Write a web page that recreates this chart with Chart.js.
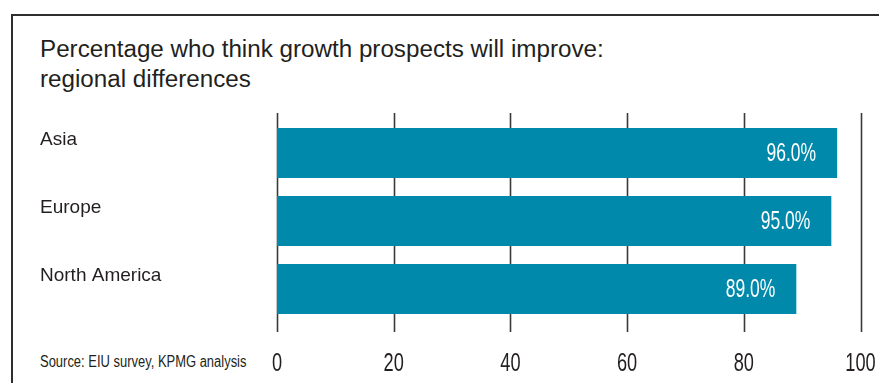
<!DOCTYPE html>
<html>
<head>
<meta charset="utf-8">
<script src="https://cdn.jsdelivr.net/npm/chart.js@4"></script>
<style>
  html, body { margin: 0; padding: 0; background: #fff; }
  #wrap { position: relative; width: 879px; height: 383px; overflow: hidden; }
  #frame {
    position: absolute; left: 11px; top: 14px; width: 900px; height: 400px;
    border-left: 2px solid #2e2e2e; border-top: 2px solid #2e2e2e;
  }
  #title {
    position: absolute; left: 40px; top: 34px; white-space: nowrap;
    font: 23.5px "Liberation Sans", Arial, sans-serif; line-height: 30px; color: #231f20;
    transform: scaleX(1.03); transform-origin: left top;
  }
  #source {
    position: absolute; left: 40px; top: 353px; white-space: nowrap;
    font: 16px "Liberation Sans", Arial, sans-serif; color: #231f20;
    transform: scaleX(0.81); transform-origin: left top;
  }
  #chartBox { position: absolute; left: 0; top: 0; width: 879px; height: 383px; }
</style>
</head>
<body>
<div id="wrap">
  <div id="frame"></div>
  <div id="title">Percentage who think growth prospects will improve:<br>regional differences</div>
  <div id="source">Source: EIU survey, KPMG analysis</div>
  <div id="chartBox"><canvas id="growthChart"></canvas></div>
</div>
<script>
const regions = ["Asia", "Europe", "North America"];
const improvePct = [96.0, 95.0, 89.0];
const axisTicks = [0, 20, 40, 60, 80, 100];

const barColor = "#0189ab";
const inkColor = "#231f20";
const numFont = "'Liberation Sans', Arial, sans-serif";
const squeeze = 0.7; // numbers are set in a condensed cut

// vertical rules behind the bars, running a little past the plot area
const gridRules = {
  id: "gridRules",
  beforeDatasetsDraw(chart) {
    const { ctx, chartArea, scales } = chart;
    ctx.save();
    ctx.strokeStyle = "#3a3a3a";
    ctx.lineWidth = 1.6;
    axisTicks.forEach((v) => {
      const x = Math.round(scales.x.getPixelForValue(v)) + 0.5;
      ctx.beginPath();
      ctx.moveTo(x, chartArea.top - 6);
      ctx.lineTo(x, chartArea.bottom + 9);
      ctx.stroke();
    });
    ctx.restore();
  },
};

function narrowText(ctx, text, x, y) {
  ctx.save();
  ctx.translate(x, y);
  ctx.scale(squeeze, 1);
  ctx.fillText(text, 0, 0);
  ctx.restore();
}

// x tick numbers under the rules
const axisNumbers = {
  id: "axisNumbers",
  afterDraw(chart) {
    const { ctx, chartArea, scales } = chart;
    ctx.save();
    ctx.fillStyle = inkColor;
    ctx.font = `26px ${numFont}`;
    ctx.textAlign = "center";
    ctx.textBaseline = "middle";
    axisTicks.forEach((v) => {
      narrowText(ctx, String(v), scales.x.getPixelForValue(v), chartArea.bottom + 41);
    });
    ctx.restore();
  },
};

// value written inside the right end of each bar
const barValues = {
  id: "barValues",
  afterDatasetsDraw(chart) {
    const { ctx } = chart;
    const meta = chart.getDatasetMeta(0);
    ctx.save();
    ctx.fillStyle = "#ffffff";
    ctx.font = `25px ${numFont}`;
    ctx.textAlign = "right";
    ctx.textBaseline = "middle";
    meta.data.forEach((bar, i) => {
      narrowText(ctx, `${improvePct[i].toFixed(1)}%`, bar.x - 21, bar.y + 1);
    });
    ctx.restore();
  },
};

new Chart(document.getElementById("growthChart"), {
  type: "bar",
  data: {
    labels: regions,
    datasets: [
      {
        data: improvePct,
        backgroundColor: barColor,
        borderWidth: 0,
        barPercentage: 0.735,
        categoryPercentage: 1,
      },
    ],
  },
  options: {
    indexAxis: "y",
    responsive: true,
    maintainAspectRatio: false,
    animation: false,
    layout: { padding: { left: 40, top: 119, right: 18.5, bottom: 60 } },
    plugins: {
      legend: { display: false },
      tooltip: { enabled: false },
    },
    scales: {
      x: {
        min: 0,
        max: 100,
        grid: { display: false, drawTicks: false },
        border: { display: false },
        ticks: { display: false },
      },
      y: {
        afterFit: (scale) => {
          scale.width = 237;
        },
        grid: { display: false, drawTicks: false },
        border: { display: false },
        ticks: {
          crossAlign: "far",
          labelOffset: -13,
          padding: 0,
          color: inkColor,
          font: { family: "'Liberation Sans', Arial, sans-serif", size: 19 },
        },
      },
    },
  },
  plugins: [gridRules, barValues, axisNumbers],
});
</script>
</body>
</html>
